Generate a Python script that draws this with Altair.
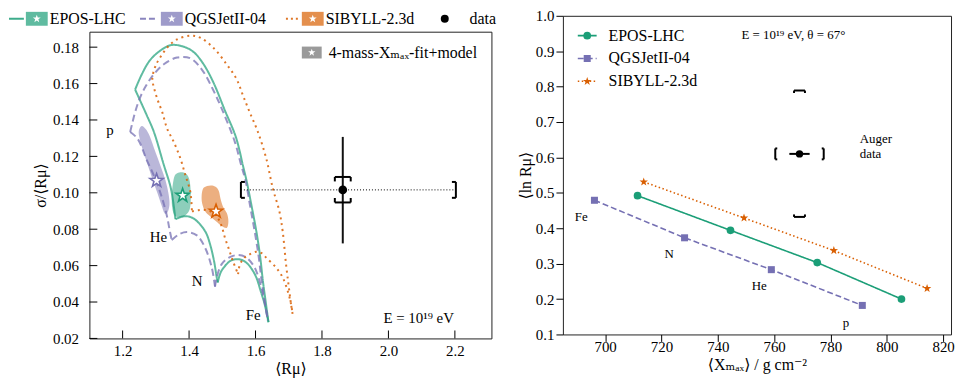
import altair as alt
import pandas as pd

FONT = "Liberation Serif, Times New Roman, Tinos, DejaVu Serif, serif"
C_EPOS, C_QGS, C_SIB = "#1b9e77", "#7570b3", "#d95f02"
STAR = ("M0,-1L0.235,-0.324L0.951,-0.309L0.38,0.124L0.588,0.809L0,0.4"
        "L-0.588,0.809L-0.38,0.124L-0.951,-0.309L-0.235,-0.324Z")

# ---------------- left panel: sigma/<R_mu> vs <R_mu> ----------------
models = ["EPOS-LHC", "QGSJetII-04", "SIBYLL-2.3d"]

epos_pHe_x = [1.2376, 1.2724, 1.2942, 1.3240, 1.3440, 1.3520, 1.3589]
epos_pHe_y = [0.1567, 0.1427, 0.1334, 0.1153, 0.1034, 0.0953, 0.0855]
epos_HeN_x = [1.3589, 1.3768, 1.3937, 1.4125, 1.4334, 1.4513, 1.4632, 1.4751, 1.4832, 1.4861]
epos_HeN_y = [0.0855, 0.0868, 0.0871, 0.0860, 0.0826, 0.0779, 0.0717, 0.0626, 0.0535, 0.0507]
epos_NFe_x = [1.4861, 1.4960, 1.5130, 1.5258, 1.5428, 1.5586, 1.5726, 1.5884, 1.6024, 1.6152, 1.6271, 1.6390]
epos_NFe_y = [0.0507, 0.0566, 0.0608, 0.0628, 0.0635, 0.0631, 0.0616, 0.0582, 0.0535, 0.0462, 0.0390, 0.0289]
epos_pFe_x = [1.2376, 1.2575, 1.2814, 1.3112, 1.3440, 1.3797, 1.4125, 1.4423, 1.4730, 1.5079,
              1.5407, 1.5630, 1.5735, 1.5884, 1.6024, 1.6137, 1.6221, 1.6301, 1.6390]
epos_pFe_y = [0.1567, 0.1650, 0.1726, 0.1778, 0.1811, 0.1805, 0.1775, 0.1710, 0.1607, 0.1452,
              0.1307, 0.1143, 0.1062, 0.0925, 0.0789, 0.0653, 0.0517, 0.0408, 0.0289]

qgs_pHe_x = [1.2227, 1.2447, 1.2724, 1.2993, 1.3201, 1.3335, 1.3410, 1.3478]
qgs_pHe_y = [0.1334, 0.1298, 0.1181, 0.1072, 0.0963, 0.0871, 0.0800, 0.0740]
qgs_HeN_x = [1.3478, 1.3687, 1.3937, 1.4235, 1.4483, 1.4683, 1.4781]
qgs_HeN_y = [0.0740, 0.0771, 0.0784, 0.0766, 0.0698, 0.0589, 0.0484]
qgs_NFe_x = [1.4781, 1.4832, 1.4981, 1.5228, 1.5475, 1.5726, 1.5973, 1.6173, 1.6322, 1.6370]
qgs_NFe_y = [0.0484, 0.0535, 0.0608, 0.0647, 0.0658, 0.0644, 0.0589, 0.0480, 0.0353, 0.0299]
qgs_pFe_x = [1.2227, 1.2292, 1.2376, 1.2516, 1.2694, 1.2933, 1.3240, 1.3639, 1.4036, 1.4385, 1.4730,
             1.5028, 1.5377, 1.5556, 1.5705, 1.5839, 1.5973, 1.6092, 1.6182, 1.6271, 1.6370]
qgs_pFe_y = [0.1334, 0.1383, 0.1443, 0.1519, 0.1585, 0.1650, 0.1706, 0.1743, 0.1739, 0.1677, 0.1563,
             0.1443, 0.1280, 0.1160, 0.1062, 0.0925, 0.0789, 0.0653, 0.0517, 0.0408, 0.0299]

sib_arc_x = [1.7115, 1.7067, 1.7016, 1.6918, 1.6817, 1.6718, 1.6519, 1.6322, 1.6072, 1.5824,
             1.5624, 1.5428, 1.5130, 1.4730, 1.4334, 1.4036, 1.3639, 1.3389, 1.3192, 1.2993,
             1.2894, 1.2942, 1.3043, 1.3192, 1.3341, 1.3538, 1.3738, 1.3887, 1.4036, 1.4086]
sib_arc_y = [0.0335, 0.0390, 0.0462, 0.0608, 0.0789, 0.0898, 0.1025, 0.1189, 0.1334, 0.1443,
             0.1534, 0.1625, 0.1706, 0.1797, 0.1852, 0.1863, 0.1843, 0.1807, 0.1761, 0.1698,
             0.1625, 0.1579, 0.1516, 0.1443, 0.1352, 0.1280, 0.1189, 0.1098, 0.1007, 0.0898]
sib_HeN_x = [1.4086, 1.4274, 1.4483, 1.4692, 1.4870, 1.4990, 1.5079, 1.5198, 1.5317, 1.5475]
sib_HeN_y = [0.0898, 0.0904, 0.0906, 0.0893, 0.0860, 0.0811, 0.0753, 0.0691, 0.0626, 0.0553]
sib_NFe_x = [1.5475, 1.5526, 1.5645, 1.5824, 1.6024, 1.6182, 1.6322, 1.6620, 1.6817, 1.6966, 1.7067, 1.7115]
sib_NFe_y = [0.0553, 0.0604, 0.0639, 0.0662, 0.0676, 0.0669, 0.0644, 0.0589, 0.0535, 0.0462, 0.0390, 0.0335]

# fit contours (4-mass Xmax fit + model)
qgs_blob_x = [1.2575, 1.2694, 1.2814, 1.2933, 1.3052, 1.3171, 1.3291, 1.3380, 1.3410, 1.3350,
              1.3261, 1.3171, 1.3052, 1.2903, 1.2754, 1.2605, 1.2516, 1.2486]
qgs_blob_y = [0.1367, 0.1350, 0.1312, 0.1252, 0.1192, 0.1132, 0.1067, 0.0996, 0.0936, 0.0893,
              0.0887, 0.0931, 0.0996, 0.1072, 0.1154, 0.1236, 0.1296, 0.1340]
epos_blob_x = [1.3618, 1.3738, 1.3887, 1.3991, 1.4036, 1.4051, 1.4036, 1.3976, 1.3827, 1.3678,
               1.3544, 1.3484, 1.3484, 1.3514, 1.3559]
epos_blob_y = [0.1105, 0.1113, 0.1108, 0.1083, 0.1040, 0.0980, 0.0925, 0.0893, 0.0868, 0.0865,
               0.0882, 0.0931, 0.0996, 0.1051, 0.1089]
sib_blob_x = [1.4423, 1.4542, 1.4692, 1.4826, 1.4900, 1.4945, 1.5019, 1.5139, 1.5183, 1.5139,
              1.4990, 1.4811, 1.4632, 1.4483, 1.4393, 1.4379]
sib_blob_y = [0.1023, 0.1037, 0.1040, 0.1029, 0.1007, 0.0969, 0.0925, 0.0887, 0.0844, 0.0808,
              0.0816, 0.0844, 0.0871, 0.0898, 0.0942, 0.0985]
fit_x = [1.3806, 1.3022, 1.4811]
fit_y = [0.0985, 0.1067, 0.0898]

auger_rmu = 1.8626
auger_sig = 0.1016
auger_sig_stat = [0.0722, 0.1307]
auger_sig_sys = [0.0947, 0.1087]
auger_rmu_sys = [1.556, 2.203]

comp_labels = ["p", "He", "N", "Fe"]
L_lab_x = [1.162, 1.308, 1.424, 1.593]
L_lab_y = [0.1345, 0.0756, 0.0517, 0.0326]

L_xticks = [1.2, 1.4, 1.6, 1.8, 2.0, 2.2]
L_yticks = [0.02, 0.04, 0.06, 0.08, 0.10, 0.12, 0.14, 0.16, 0.18]

# ---------------- right panel: <ln R_mu> vs <Xmax> ----------------
xmax_epos = [711.5, 744.5, 775.3, 805.2]
lnr_epos = [0.492, 0.394, 0.303, 0.200]
xmax_qgs = [696.2, 728.2, 759.0, 791.3]
lnr_qgs = [0.479, 0.373, 0.283, 0.182]
xmax_sib = [713.7, 749.3, 781.2, 814.3]
lnr_sib = [0.531, 0.429, 0.337, 0.230]
R_lab_x = [785.5, 754.7, 722.7, 691.5]
R_lab_y = [0.132, 0.236, 0.328, 0.432]
auger_xmax = 769.0
auger_lnr = 0.610
auger_xmax_stat = [765.4, 772.6]
auger_xmax_sys = [760.4, 777.6]
auger_lnr_sys = [0.432, 0.789]
R_xticks = [700, 720, 740, 760, 780, 800, 820]
R_yticks = [0.1, 0.2, 0.3, 0.4, 0.5, 0.6, 0.7, 0.8, 0.9, 1.0]

# ======================================================================
LW, LH, RW, RH = 405, 309, 391, 321
one = pd.DataFrame({"k": [0]})

xsL = alt.Scale(domain=[1.10, 2.31], nice=False, zero=False)
ysL = alt.Scale(domain=[0.02, 0.1885], nice=False, zero=False)
axLx = alt.Axis(values=L_xticks, format=".1f", ticks=False, tickSize=0, domain=False, grid=False,
                labelPadding=5, labelFontSize=15, title="⟨Rμ⟩", titleFontSize=16, titlePadding=2)
axLy = alt.Axis(values=L_yticks, format=".2f", ticks=False, tickSize=0, domain=False, grid=False,
                labelPadding=11, labelFontSize=15, title="σ/⟨Rμ⟩", titleFontSize=16, titlePadding=4)


def LX(f="x"):
    return alt.X(f"{f}:Q", scale=xsL, axis=axLx)


def LY(f="y"):
    return alt.Y(f"{f}:Q", scale=ysL, axis=axLy)


def path_df(segs):
    rows = []
    for name, (xs, ys) in segs.items():
        for i, (a, b) in enumerate(zip(xs, ys)):
            rows.append({"x": a, "y": b, "seg": name, "i": i})
    return pd.DataFrame(rows)


def curve(segs, color, dash, width, opacity):
    return alt.Chart(path_df(segs)).mark_line(
        color=color, strokeWidth=width, opacity=opacity, strokeDash=dash,
        interpolate="catmull-rom").encode(x=LX(), y=LY(), detail="seg:N", order="i:Q")


def blob(xs, ys, color):
    df = pd.DataFrame({"x": xs, "y": ys, "i": list(range(len(xs)))})
    return alt.Chart(df).mark_line(interpolate="cardinal-closed", fill=color, fillOpacity=0.5,
                                   stroke=color, strokeOpacity=0, strokeWidth=0).encode(
        x=LX(), y=LY(), order="i:Q")


def seg_rule(df, X, Y, d1, d2, width=2, color="black"):
    return alt.Chart(df).mark_rule(xOffset=d1[0], yOffset=d1[1], x2Offset=d2[0], y2Offset=d2[1],
                                   strokeWidth=width, color=color).encode(
        x=X("x"), y=Y("y"), x2=alt.X2("x"), y2=alt.Y2("y"))


L = []
L.append(blob(qgs_blob_x, qgs_blob_y, C_QGS))
L.append(blob(epos_blob_x, epos_blob_y, C_EPOS))
L.append(blob(sib_blob_x, sib_blob_y, C_SIB))
L.append(curve({"pHe": (epos_pHe_x, epos_pHe_y), "HeN": (epos_HeN_x, epos_HeN_y),
                "NFe": (epos_NFe_x, epos_NFe_y), "pFe": (epos_pFe_x, epos_pFe_y)},
               C_EPOS, [1, 0], 2, 0.7))
L.append(curve({"pHe": (qgs_pHe_x, qgs_pHe_y), "HeN": (qgs_HeN_x, qgs_HeN_y),
                "NFe": (qgs_NFe_x, qgs_NFe_y), "pFe": (qgs_pFe_x, qgs_pFe_y)},
               C_QGS, [7, 4], 2, 0.75))
L.append(curve({"arc": (sib_arc_x, sib_arc_y), "HeN": (sib_HeN_x, sib_HeN_y),
                "NFe": (sib_NFe_x, sib_NFe_y)},
               C_SIB, [2, 4], 2, 0.85))
for xv, yv, col in zip(fit_x, fit_y, [C_EPOS, C_QGS, C_SIB]):
    L.append(alt.Chart(pd.DataFrame({"x": [xv], "y": [yv]})).mark_point(
        shape=STAR, size=200, filled=True, fill="white", stroke=col, strokeWidth=1.6, opacity=1).encode(
        x=LX(), y=LY()))

# data point with errors
L.append(alt.Chart(pd.DataFrame({"x": [auger_rmu_sys[0]], "x2": [auger_rmu_sys[1]], "y": [auger_sig]}))
         .mark_rule(strokeDash=[1, 2], strokeWidth=1, color="black")
         .encode(x=LX(), x2=alt.X2("x2"), y=LY()))
L.append(alt.Chart(pd.DataFrame({"x": [auger_rmu], "y": [auger_sig_stat[0]], "y2": [auger_sig_stat[1]]}))
         .mark_rule(strokeWidth=2, color="#111").encode(x=LX(), y=LY(), y2=alt.Y2("y2")))
top_df = pd.DataFrame({"x": [auger_rmu], "y": [auger_sig_sys[1]]})
bot_df = pd.DataFrame({"x": [auger_rmu], "y": [auger_sig_sys[0]]})
lft_df = pd.DataFrame({"x": [auger_rmu_sys[0]], "y": [auger_sig]})
rgt_df = pd.DataFrame({"x": [auger_rmu_sys[1]], "y": [auger_sig]})
for df, sgn in [(top_df, 1), (bot_df, -1)]:
    L.append(seg_rule(df, LX, LY, (-8, 0), (8, 0)))
    L.append(seg_rule(df, LX, LY, (-8, 0), (-8, 4.5 * sgn)))
    L.append(seg_rule(df, LX, LY, (8, 0), (8, 4.5 * sgn)))
for df, sgn in [(lft_df, 1), (rgt_df, -1)]:
    L.append(seg_rule(df, LX, LY, (0, -8), (0, 8)))
    L.append(seg_rule(df, LX, LY, (0, -8), (4 * sgn, -8)))
    L.append(seg_rule(df, LX, LY, (0, 8), (4 * sgn, 8)))
L.append(alt.Chart(pd.DataFrame({"x": [auger_rmu], "y": [auger_sig]})).mark_point(
    shape="circle", size=76, filled=True, color="black", opacity=1).encode(x=LX(), y=LY()))

# inward ticks
L.append(alt.Chart(pd.DataFrame({"x": L_xticks})).mark_rule(color="black", strokeWidth=1)
         .encode(x=LX(), y=alt.value(LH), y2=alt.value(LH - 8)))
L.append(alt.Chart(pd.DataFrame({"y": L_yticks})).mark_rule(color="black", strokeWidth=1)
         .encode(y=LY(), x=alt.value(0), x2=alt.value(8)))

# texts
L.append(alt.Chart(pd.DataFrame({"x": L_lab_x, "y": L_lab_y, "t": comp_labels})).mark_text(
    font=FONT, fontSize=15, color="black").encode(x=LX(), y=LY(), text="t:N"))
L.append(alt.Chart(pd.DataFrame({"x": [1.985], "y": [0.031], "t": ["E = 10¹⁹ eV"]})).mark_text(
    font=FONT, fontSize=15, align="left", color="black").encode(x=LX(), y=LY(), text="t:N"))

# inner legend
L.append(alt.Chart(one).mark_rect(color="#9a9a9a", opacity=1).encode(
    x=alt.value(214), x2=alt.value(234), y=alt.value(15), y2=alt.value(27)))
L.append(alt.Chart(one).mark_point(shape=STAR, size=60, filled=True, color="white", opacity=1).encode(
    x=alt.value(224), y=alt.value(21)))
L.append(alt.Chart(one).mark_text(font=FONT, fontSize=16, align="left", baseline="middle", color="black")
         .encode(x=alt.value(241), y=alt.value(21), text=alt.value("4-mass-Xₘₐₓ-fit+model")))

left_plot = alt.layer(*L).properties(width=LW, height=LH)

# top legend strip
C = 3
S = []
leg_cols = [C_EPOS, C_QGS, C_SIB]
leg_dash = [[1, 0], [6, 3], [2, 3]]
leg_line_x = [-81, 51, 198]
leg_box_x = [-64, 72, 214]
leg_text_x = [-40, 96, 238]
for name, col, dash, lx0, bx0, tx in zip(models, leg_cols, leg_dash, leg_line_x, leg_box_x, leg_text_x):
    S.append(alt.Chart(one).mark_rule(color=col, strokeWidth=2, opacity=0.85, strokeDash=dash).encode(
        x=alt.value(lx0), x2=alt.value(lx0 + 15), y=alt.value(C)))
    S.append(alt.Chart(one).mark_rect(color=col, opacity=0.7).encode(
        x=alt.value(bx0), x2=alt.value(bx0 + 22), y=alt.value(C - 7), y2=alt.value(C + 7)))
    S.append(alt.Chart(one).mark_point(shape=STAR, size=70, filled=True, color="white", opacity=1).encode(
        x=alt.value(bx0 + 11), y=alt.value(C)))
    S.append(alt.Chart(one).mark_text(font=FONT, fontSize=16, align="left", baseline="middle", color="black")
             .encode(x=alt.value(tx), y=alt.value(C), text=alt.value(name)))
S.append(alt.Chart(one).mark_point(shape="circle", size=64, filled=True, color="black", opacity=1).encode(
    x=alt.value(358), y=alt.value(C)))
S.append(alt.Chart(one).mark_text(font=FONT, fontSize=16, align="left", baseline="middle", color="black")
         .encode(x=alt.value(383), y=alt.value(C), text=alt.value("data")))
strip = alt.layer(*S).properties(width=LW, height=8, view=alt.ViewBackground(strokeWidth=0))

left = alt.vconcat(strip, left_plot, spacing=4)

# ---------------- right chart ----------------
xsR = alt.Scale(domain=[685, 822.8], nice=False, zero=False)
ysR = alt.Scale(domain=[0.1, 1.0], nice=False, zero=False)
axRx = alt.Axis(values=R_xticks, format="d", ticks=True, tickSize=7, tickColor="black", domain=False,
                grid=False, labelPadding=-2, labelFontSize=15, title="⟨Xₘₐₓ⟩ / g cm⁻²",
                titleFontSize=16, titlePadding=2)
axRy = alt.Axis(values=R_yticks, format=".1f", ticks=True, tickSize=7, tickColor="black", domain=False,
                grid=False, labelPadding=2, labelFontSize=15, title="⟨ln Rμ⟩", titleFontSize=16,
                titlePadding=2)


def RX(f="x"):
    return alt.X(f"{f}:Q", scale=xsR, axis=axRx)


def RY(f="y"):
    return alt.Y(f"{f}:Q", scale=ysR, axis=axRy)


R = []
for xs, ys, col, dash, shape, size in [
        (xmax_epos, lnr_epos, C_EPOS, [1, 0], "circle", 60),
        (xmax_qgs, lnr_qgs, C_QGS, [6, 3], "square", 50),
        (xmax_sib, lnr_sib, C_SIB, [1.5, 2.5], STAR, 80)]:
    df = pd.DataFrame({"x": xs, "y": ys})
    R.append(alt.Chart(df).mark_line(color=col, strokeWidth=1.6, strokeDash=dash).encode(x=RX(), y=RY()))
    R.append(alt.Chart(df).mark_point(shape=shape, size=size, filled=True, color=col, opacity=1).encode(
        x=RX(), y=RY()))

R.append(alt.Chart(pd.DataFrame({"x": [auger_xmax_stat[0]], "x2": [auger_xmax_stat[1]], "y": [auger_lnr]}))
         .mark_rule(strokeWidth=2, color="black").encode(x=RX(), x2=alt.X2("x2"), y=RY()))
rt = pd.DataFrame({"x": [auger_xmax], "y": [auger_lnr_sys[1]]})
rb = pd.DataFrame({"x": [auger_xmax], "y": [auger_lnr_sys[0]]})
rl = pd.DataFrame({"x": [auger_xmax_sys[0]], "y": [auger_lnr]})
rr = pd.DataFrame({"x": [auger_xmax_sys[1]], "y": [auger_lnr]})
for df, sgn in [(rt, 1), (rb, -1)]:
    R.append(seg_rule(df, RX, RY, (-5.5, 0), (5.5, 0)))
    R.append(seg_rule(df, RX, RY, (-5.5, 0), (-5.5, 2.5 * sgn)))
    R.append(seg_rule(df, RX, RY, (5.5, 0), (5.5, 2.5 * sgn)))
for df, sgn in [(rl, 1), (rr, -1)]:
    R.append(seg_rule(df, RX, RY, (0, -5.5), (0, 5.5)))
    R.append(seg_rule(df, RX, RY, (0, -5.5), (2 * sgn, -5.5)))
    R.append(seg_rule(df, RX, RY, (0, 5.5), (2 * sgn, 5.5)))
R.append(alt.Chart(pd.DataFrame({"x": [auger_xmax], "y": [auger_lnr]})).mark_point(
    shape="circle", size=55, filled=True, color="black", opacity=1).encode(x=RX(), y=RY()))

R.append(alt.Chart(pd.DataFrame({"x": R_lab_x, "y": R_lab_y, "t": comp_labels})).mark_text(
    font=FONT, fontSize=13, color="black").encode(x=RX(), y=RY(), text="t:N"))
R.append(alt.Chart(pd.DataFrame({"x": [790.4, 790.4], "y": [0.653, 0.611], "t": ["Auger", "data"]}))
         .mark_text(font=FONT, fontSize=13, align="left", color="black").encode(x=RX(), y=RY(), text="t:N"))
R.append(alt.Chart(pd.DataFrame({"x": [748.4], "y": [0.947], "t": ["E = 10¹⁹ eV, θ = 67°"]}))
         .mark_text(font=FONT, fontSize=13, align="left", color="black").encode(x=RX(), y=RY(), text="t:N"))

# legend in right panel
for i, (name, col, dash, shape, size) in enumerate(zip(
        models, leg_cols, [[1, 0], [6, 3], [1.5, 2.5]], ["circle", "square", STAR], [60, 50, 80])):
    yy = 20 + 23 * i
    R.append(alt.Chart(one).mark_rule(color=col, strokeWidth=1.6, strokeDash=dash).encode(
        x=alt.value(15), x2=alt.value(34), y=alt.value(yy)))
    R.append(alt.Chart(one).mark_point(shape=shape, size=size, filled=True, color=col, opacity=1).encode(
        x=alt.value(24.5), y=alt.value(yy)))
    R.append(alt.Chart(one).mark_text(font=FONT, fontSize=16, align="left", baseline="middle", color="black")
             .encode(x=alt.value(46), y=alt.value(yy), text=alt.value(name)))

right = alt.layer(*R).properties(width=RW, height=RH)

chart = alt.hconcat(left, right, spacing=20).properties(
    padding={"left": 0, "top": -1.5, "right": 0, "bottom": 0}
).configure_view(stroke="#222", strokeWidth=1).configure_axis(
    labelFont=FONT, titleFont=FONT, labelColor="black", titleColor="black", titleFontWeight="normal"
)

chart.save("out.html", embed_options={"renderer": "svg", "actions": False})
